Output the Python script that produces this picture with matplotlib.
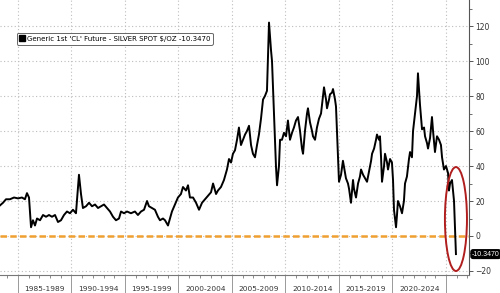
import matplotlib.pyplot as plt
import matplotlib.transforms as mtransforms
from matplotlib.lines import Line2D
from matplotlib.patches import Ellipse

# Generic 1st 'CL' Future minus Silver spot
years = [
    1983.32, 1983.60, 1983.88, 1984.25, 1984.63, 1985.00, 1985.37, 1985.65, 1985.84, 1986.03,
    1986.22, 1986.40, 1986.59, 1986.78, 1987.06, 1987.34, 1987.62, 1987.90, 1988.18, 1988.46,
    1988.74, 1989.02, 1989.30, 1989.58, 1989.86, 1990.14, 1990.42, 1990.70, 1990.89, 1991.07,
    1991.36, 1991.64, 1991.92, 1992.20, 1992.48, 1992.76, 1993.04, 1993.32, 1993.60, 1993.88,
    1994.16, 1994.44, 1994.63, 1994.91, 1995.19, 1995.56, 1995.93, 1996.21, 1996.50, 1996.78,
    1997.06, 1997.24, 1997.52, 1997.80, 1998.08, 1998.27, 1998.55, 1998.74, 1999.02, 1999.21,
    1999.39, 1999.67, 1999.95, 2000.23, 2000.42, 2000.70, 2000.89, 2001.07, 2001.36, 2001.64,
    2001.92, 2002.20, 2002.48, 2002.76, 2003.04, 2003.23, 2003.51, 2003.69, 2003.97, 2004.25,
    2004.53, 2004.72, 2004.91, 2005.09, 2005.28, 2005.47, 2005.65, 2005.84, 2006.03, 2006.22,
    2006.40, 2006.59, 2006.78, 2006.96, 2007.15, 2007.34, 2007.52, 2007.71, 2007.90, 2008.08,
    2008.27, 2008.46, 2008.65, 2008.74, 2008.93, 2009.11, 2009.21, 2009.39, 2009.49, 2009.67,
    2009.86, 2010.05, 2010.23, 2010.42, 2010.61, 2010.79, 2010.98, 2011.17, 2011.36, 2011.54,
    2011.64, 2011.82, 2012.01, 2012.10, 2012.29, 2012.48, 2012.57, 2012.76, 2012.94, 2013.13,
    2013.32, 2013.50, 2013.60, 2013.79, 2013.88, 2014.07, 2014.16, 2014.35, 2014.44, 2014.63,
    2014.72, 2014.81, 2014.91, 2015.00, 2015.19, 2015.37, 2015.56, 2015.65, 2015.84, 2015.94,
    2016.12, 2016.31, 2016.40, 2016.59, 2016.78, 2016.96, 2017.06, 2017.25, 2017.43, 2017.62,
    2017.81, 2018.00, 2018.09, 2018.28, 2018.46, 2018.55, 2018.74, 2018.83, 2018.93, 2019.02,
    2019.21, 2019.30, 2019.49, 2019.58, 2019.77, 2019.95, 2020.05, 2020.14, 2020.33, 2020.42,
    2020.51, 2020.70, 2020.89, 2021.07, 2021.17, 2021.35, 2021.54, 2021.64, 2021.82, 2021.92,
    2022.10, 2022.29, 2022.38, 2022.57, 2022.76, 2022.95, 2023.04, 2023.23, 2023.32, 2023.51,
    2023.69, 2023.79, 2023.97, 2024.16, 2024.35, 2024.53, 2024.63, 2024.81, 2025.00, 2025.19,
    2025.28, 2025.38, 2025.56, 2025.75, 2025.93,
]
spread = [
    17.5, 19, 21, 21, 22, 21.5, 22, 21, 24.5, 22,
    5, 9, 6, 10, 9, 12, 11, 12, 11, 12,
    8, 9, 12, 14, 13, 15, 13, 35, 24, 16,
    17, 19, 17, 18, 16, 17, 18, 16, 14, 11,
    9, 10, 14, 13, 14, 13, 14, 12, 14, 15,
    20, 17, 16, 15, 11, 9, 10, 9, 6, 10,
    14, 18, 22, 24, 28, 26, 29, 22, 22, 19,
    15, 19, 21, 23, 25, 30, 24, 26, 28, 32,
    38, 44, 42, 47, 49, 55, 62, 52, 55, 58,
    60, 63, 52, 47, 45, 52, 58, 67, 78, 80,
    83, 122, 106, 100, 70, 40, 29, 40, 55, 55,
    59, 57, 66, 55, 59, 62, 66, 68, 60, 50,
    47, 60, 70, 73, 65, 60, 57, 55, 62, 67,
    70, 80, 85, 78, 73, 78, 81, 82, 84, 78,
    74, 60, 45, 31, 35, 43, 36, 33, 30, 27,
    19, 32, 27, 22, 30, 34, 38, 35, 33, 31,
    37, 43, 47, 50, 55, 58, 55, 57, 45, 31,
    40, 47, 42, 38, 44, 42, 32, 15, 5, 12,
    20, 17, 13, 20, 30, 34, 44, 48, 45, 60,
    70, 80, 93, 75, 61, 62, 57, 53, 50, 56,
    68, 60, 48, 57, 55, 52, 45, 38, 40, 36,
    26, 30, 32, 20, -10.347,
]
last_value = -10.347
legend_text = "Generic 1st 'CL' Future - SILVER SPOT $/OZ -10.3470"
bucket_starts = [1985, 1990, 1995, 2000, 2005, 2010, 2015, 2020]

fig = plt.figure(figsize=(5, 2.93), dpi=100)
ax = fig.add_axes([0, 0.0614, 0.938, 0.9386])

ax.plot(years, spread, color='black', lw=1.4, zorder=3)
ax.axhline(0, color='#F0A030', lw=1.8, ls=(0, (2.6, 1.3)), zorder=2)

ax.set_xlim(1983.32, 2027.15)
ax.set_ylim(-22.3, 134.9)

# grid
for y in range(-20, 121, 20):
    ax.axhline(y, color='#bdbdbd', lw=0.8, ls=(0, (1, 2.2)), zorder=1)
for x in range(1985, 2026, 5):
    ax.axvline(x, color='#bdbdbd', lw=0.8, ls=(0, (1, 2.2)), zorder=1)

# spines and ticks
for s in ['top', 'left']:
    ax.spines[s].set_visible(False)
ax.spines['right'].set_color('#555555')
ax.spines['bottom'].set_color('#777777')
ax.spines['right'].set_linewidth(0.8)
ax.spines['bottom'].set_linewidth(0.8)

ax.yaxis.tick_right()
ax.set_yticks(range(-20, 121, 20))
ax.set_yticks(range(-20, 131, 10), minor=True)
ax.tick_params(axis='y', which='major', length=3, width=0.7, color='#555555',
               labelsize=5.5, labelcolor='#333333', pad=1.5)
ax.tick_params(axis='y', which='minor', length=1.8, width=0.6, color='#555555')

ax.set_xticks(range(1985, 2026, 5))
ax.set_xticks(range(1984, 2028), minor=True)
ax.tick_params(axis='x', which='major', length=14, width=0.7, color='#999999',
               labelbottom=False)
ax.tick_params(axis='x', which='minor', length=2, width=0.6, color='#777777')

trans = mtransforms.blended_transform_factory(ax.transData, ax.transAxes)
for start in bucket_starts:
    ax.text(start + 2.5, -0.052, f"{start}-{start + 4}", transform=trans,
            ha='center', va='center', fontsize=5.3, color='#333333')

# last value marker
trans_y = mtransforms.blended_transform_factory(ax.transAxes, ax.transData)
ax.text(1.006, last_value, f"{last_value:.4f}", transform=trans_y, ha='left',
        va='center', fontsize=5, color='white', clip_on=False,
        family='Liberation Sans',
        bbox=dict(boxstyle='round,pad=0.12,rounding_size=0.3', fc='black', ec='black'))

# red ellipse highlight
ax.add_patch(Ellipse((2025.93, 9.7), 2.06, 59.4, fill=False,
                     ec='#B01E1E', lw=1.4, zorder=4))

# legend
handle = Line2D([], [], marker='s', color='black', ls='none', markersize=4)
leg = ax.legend([handle], [legend_text], loc='upper left',
                bbox_to_anchor=(0.036, 0.88), fontsize=5, frameon=True,
                handletextpad=0.2, handlelength=0.8, borderpad=0.4,
                fancybox=True, framealpha=1, borderaxespad=0)
leg.get_frame().set_edgecolor('#666666')
leg.get_frame().set_linewidth(0.7)

fig.savefig('out.png', dpi=100)
